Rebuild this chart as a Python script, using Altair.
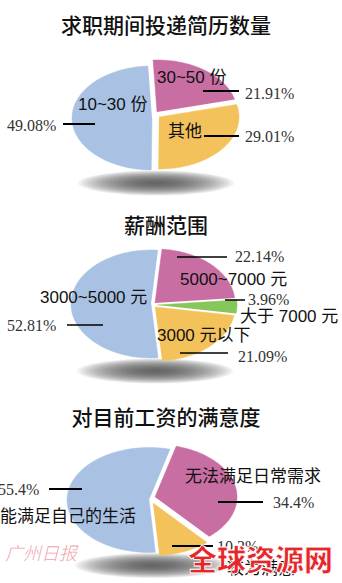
import altair as alt
import pandas as pd

W, H = 342, 583

# ---------------- data ----------------
titles = ["求职期间投递简历数量", "薪酬范围", "对目前工资的满意度"]

p1_cats = ["30~50 份", "其他", "10~30 份"]
p1_vals = [21.91, 29.01, 49.08]

p2_cats = ["5000~7000 元", "大于 7000 元", "3000 元以下", "3000~5000 元"]
p2_vals = [22.14, 3.96, 21.09, 52.81]

p3_cats = ["无法满足日常需求", "较为满意", "能满足自己的生活"]
p3_vals = [34.4, 10.2, 55.4]

watermark_main = "全球资源网"
watermark_paper = "广州日报"

# ---------------- styles / layout ----------------
BLUE, PINK, ORANGE, GREEN = "#a9c2e3", "#c86ea3", "#f4c25b", "#86c65a"

pies = [
    dict(cats=p1_cats, vals=p1_vals, colors=[PINK, ORANGE, BLUE],
         cx=152, cy=118, rx=80, ry=52, rot=-2.8,
         offsets=[(5, -6), (7, -1), (0, 0)],
         cat_pos=[(157, 78), (168, 132), (78, 105)],
         pct_pos=[(245, 94), (245, 137), (7, 126)],
         leader=[(203, 239, 91), (204, 239, 136), (63, 95, 124)],
         lw=2, title_y=27),
    dict(cats=p2_cats, vals=p2_vals, colors=[PINK, GREEN, ORANGE, BLUE],
         cx=151, cy=304, rx=80, ry=54, rot=5,
         offsets=[(4, -1), (6, 1), (4, 3), (0, 0)],
         cat_pos=[(180, 280), (240, 317), (157, 336), (40, 298)],
         pct_pos=[(235, 257), (248, 300), (238, 357), (7, 326)],
         leader=[(177, 227, 257), (225, 245, 300), (180, 228, 353), (67, 103, 325)],
         lw=1.5, title_y=227),
    dict(cats=p3_cats, vals=p3_vals, colors=[PINK, ORANGE, BLUE],
         cx=149, cy=500, rx=82, ry=52.5, rot=15,
         offsets=[(6, -3), (4, 3), (0, 0)],
         cat_pos=[(185, 477), (227, 569), (0, 517)],
         pct_pos=[(273, 503), (217, 547), (-2, 490)],
         leader=[(218, 263, 502), (172, 213, 546), (49, 82, 489)],
         lw=2, title_y=419),
]

xs = alt.Scale(domain=[0, W], range=[0, W], nice=False, zero=False)
ys = alt.Scale(domain=[0, H], reverse=True, nice=False, zero=False)

# tables built from the arrays above
slice_rows, cat_rows, pct_rows, rule_rows, title_rows, shadow_rows = [], [], [], [], [], []
for pi, p in enumerate(pies):
    for i, (c, v) in enumerate(zip(p["cats"], p["vals"])):
        slice_rows.append(dict(pie=pi, order=i, cat=c, value=v, color=p["colors"][i],
                               dx=p["offsets"][i][0], dy=p["offsets"][i][1],
                               cx=p["cx"], cy=p["cy"], rx=p["rx"], ry=p["ry"], rot=p["rot"]))
        cat_rows.append(dict(text=c, x=p["cat_pos"][i][0], y=p["cat_pos"][i][1]))
        pct_rows.append(dict(text=f"{v:g}%", x=p["pct_pos"][i][0], y=p["pct_pos"][i][1]))
        l = p["leader"][i]
        rule_rows.append(dict(x=l[0], x2=l[1], y=l[2], sw=p["lw"]))
    title_rows.append(dict(text=titles[pi], x=166, y=p["title_y"]))
    nlev = 18
    for k in range(nlev):
        f = (1 - k / nlev) ** 0.75
        shadow_rows.append(dict(pie=pi, lev=k, scx=p["cx"] + 4, scy=p["cy"] + p["ry"] + 13,
                                srx=78 * f, sry=12.5 * f, op=0.06))

N = 60

pie_layer = (
    alt.Chart(pd.DataFrame(slice_rows))
    .transform_joinaggregate(total="sum(value)", groupby=["pie"])
    .transform_window(cum="sum(value)", sort=[alt.SortField("order")], groupby=["pie"], frame=[None, 0])
    .transform_calculate(a0="(datum.rot + 360 * (datum.cum - datum.value) / datum.total) * PI / 180")
    .transform_calculate(a1="(datum.rot + 360 * datum.cum / datum.total) * PI / 180")
    .transform_calculate(step=f"sequence(0, {N + 2})")
    .transform_flatten(["step"])
    .transform_calculate(ang=f"datum.a0 + (datum.a1 - datum.a0) * (datum.step - 1) / {N}")
    .transform_calculate(px="datum.cx + datum.dx + (datum.step == 0 ? 0 : datum.rx * sin(datum.ang))")
    .transform_calculate(py="datum.cy + datum.dy - (datum.step == 0 ? 0 : datum.ry * cos(datum.ang))")
    .transform_calculate(key="datum.pie + '-' + datum.order")
    .mark_line(strokeWidth=0.5, interpolate="linear")
    .encode(
        x=alt.X("px:Q", scale=xs, axis=None),
        y=alt.Y("py:Q", scale=ys, axis=None),
        order=alt.Order("step:Q"),
        detail="key:N",
        fill=alt.Fill("color:N", scale=None),
        stroke=alt.Stroke("color:N", scale=None),
    )
)

shadow_layer = (
    alt.Chart(pd.DataFrame(shadow_rows))
    .transform_calculate(step=f"sequence(0, {N + 1})")
    .transform_flatten(["step"])
    .transform_calculate(ang=f"2 * PI * datum.step / {N}")
    .transform_calculate(px="datum.scx + datum.srx * sin(datum.ang)")
    .transform_calculate(py="datum.scy - datum.sry * cos(datum.ang)")
    .transform_calculate(key="datum.pie + '-' + datum.lev")
    .mark_line(strokeWidth=0, interpolate="linear")
    .encode(
        x=alt.X("px:Q", scale=xs, axis=None),
        y=alt.Y("py:Q", scale=ys, axis=None),
        order=alt.Order("step:Q"),
        detail="key:N",
        fill=alt.value("#1a1a1a"),
        fillOpacity=alt.FillOpacity("op:Q", scale=None),
    )
)

rules = alt.Chart(pd.DataFrame(rule_rows)).mark_rule(color="#000000").encode(
    x=alt.X("x:Q", scale=xs, axis=None), x2="x2:Q",
    y=alt.Y("y:Q", scale=ys, axis=None),
    strokeWidth=alt.StrokeWidth("sw:Q", scale=None),
)

title_layer = alt.Chart(pd.DataFrame(title_rows)).mark_text(
    align="center", baseline="middle", font="Noto Sans CJK SC", fontSize=21,
    fontWeight=500, color="#111111"
).encode(x=alt.X("x:Q", scale=xs, axis=None), y=alt.Y("y:Q", scale=ys, axis=None), text="text:N")

cat_layer = alt.Chart(pd.DataFrame(cat_rows)).mark_text(
    align="left", baseline="middle", font="Liberation Sans, Noto Sans CJK SC", fontSize=17,
    color="#111111"
).encode(x=alt.X("x:Q", scale=xs, axis=None), y=alt.Y("y:Q", scale=ys, axis=None), text="text:N")

pct_layer = alt.Chart(pd.DataFrame(pct_rows)).mark_text(
    align="left", baseline="middle", font="Liberation Serif", fontSize=16, color="#333333"
).encode(x=alt.X("x:Q", scale=xs, axis=None), y=alt.Y("y:Q", scale=ys, axis=None), text="text:N")

wm_main = alt.Chart(pd.DataFrame([dict(text=watermark_main, x=188, y=562)])).mark_text(
    align="left", baseline="middle", font="Noto Sans CJK SC", fontSize=29, fontWeight=900,
    color="#e5262b", stroke="#ffffff", strokeWidth=0.8
).encode(x=alt.X("x:Q", scale=xs, axis=None), y=alt.Y("y:Q", scale=ys, axis=None), text="text:N")

wm_paper = alt.Chart(pd.DataFrame([dict(text=watermark_paper, x=5, y=555)])).mark_text(
    align="left", baseline="middle", font="Noto Sans CJK SC", fontSize=18, fontStyle="italic",
    fontWeight=300, color="#ee7f8f", opacity=0.75
).encode(x=alt.X("x:Q", scale=xs, axis=None), y=alt.Y("y:Q", scale=ys, axis=None), text="text:N")

chart = (
    alt.layer(shadow_layer, pie_layer, rules, title_layer, cat_layer, pct_layer, wm_paper, wm_main)
    .properties(width=W, height=H, autosize=alt.AutoSizeParams(type="none"), padding=0,
                background="#ffffff")
    .configure_view(stroke=None)
)

chart.save("out.html", embed_options={"renderer": "svg", "actions": False})
